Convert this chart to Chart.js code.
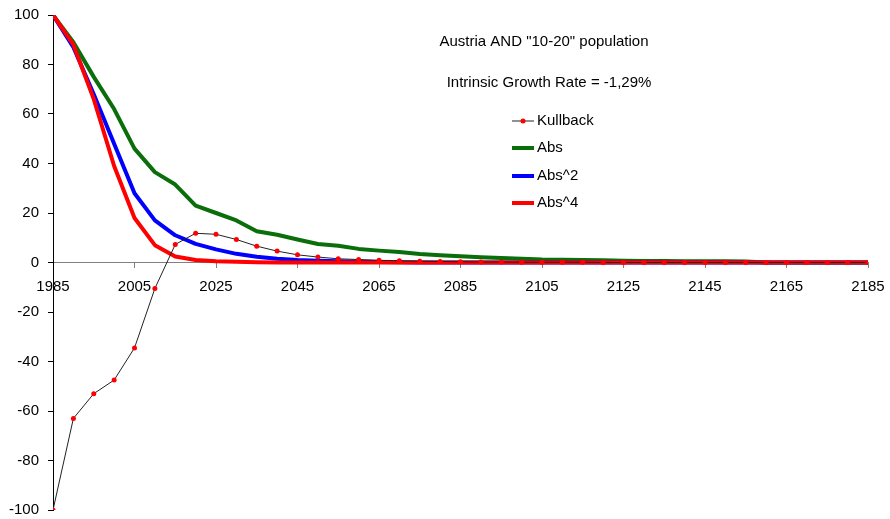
<!DOCTYPE html>
<html>
<head>
<meta charset="utf-8">
<script src="https://cdn.jsdelivr.net/npm/chart.js@4/dist/chart.umd.min.js"></script>
<style>
  html, body { margin: 0; padding: 0; background: #fff; }
  #wrap { width: 890px; height: 519px; }
</style>
</head>
<body>
<div id="wrap"><canvas id="chart" width="890" height="519"></canvas></div>
<script>
var years = [1985, 1990, 1995, 2000, 2005, 2010, 2015, 2020, 2025, 2030,
  2035, 2040, 2045, 2050, 2055, 2060, 2065, 2070, 2075, 2080,
  2085, 2090, 2095, 2100, 2105, 2110, 2115, 2120, 2125, 2130,
  2135, 2140, 2145, 2150, 2155, 2160, 2165, 2170, 2175, 2180, 2185];

var kullback = [-100, -63, -53, -47.5, -34.5, -10.5, 7.3, 11.8, 11.4, 9.3,
  6.6, 4.6, 3.1, 2.2, 1.5, 1.2, 0.9, 0.7, 0.5, 0.4,
  0.3, 0.2, 0.2, 0.1, 0.1, 0.1, 0.1, 0, 0, 0,
  0, 0, 0, 0, 0, 0, 0, 0, 0, 0, 0];

var abs1 = [100, 89, 75, 62, 46, 36.5, 31.5, 23, 20, 17,
  12.6, 11.2, 9.3, 7.5, 6.8, 5.5, 4.8, 4.2, 3.4, 2.9,
  2.5, 2.1, 1.8, 1.5, 1.2, 1.1, 1, 0.9, 0.7, 0.6,
  0.6, 0.5, 0.5, 0.5, 0.4, 0, 0, 0, 0, 0, 0];

var abs2 = [100, 87, 68, 48, 28, 17, 11, 7.5, 5.3, 3.5,
  2.3, 1.5, 1, 0.7, 0.5, 0.3, 0.2, 0.1, 0, 0,
  0, 0, 0, 0, 0, 0, 0, 0, 0, 0,
  0, 0, 0, 0, 0, 0, 0, 0, 0, 0, 0];

var abs4 = [100, 88, 66, 39, 18, 7, 2.4, 1, 0.5, 0.3,
  0.1, 0, 0, 0, 0, 0, 0, 0, 0, 0,
  0, 0, 0, 0, 0, 0, 0, 0, 0, 0,
  0, 0, 0, 0, 0, 0, 0, 0, 0, 0, 0];

var seriesNames = ['Kullback', 'Abs', 'Abs^2', 'Abs^4'];
var titleText = 'Austria AND "10-20" population';
var subtitleText = 'Intrinsic Growth Rate = -1,29%';

var FONT = '15px "Liberation Sans", Arial, sans-serif';

function pts(vals) {
  return years.map(function(y, i) { return { x: y, y: vals[i] }; });
}

// titles and the legend sit inside the plot, like the excel original
var overlay = {
  id: 'overlay',
  afterDraw: function(chart) {
    var ctx = chart.ctx;
    ctx.save();
    ctx.font = FONT;
    ctx.fillStyle = '#000';
    ctx.textBaseline = 'middle';
    ctx.textAlign = 'center';
    ctx.fillText(titleText, 544, 42);
    ctx.fillText(subtitleText, 549, 83);

    ctx.textAlign = 'left';
    var rowsY = [121, 148, 176, 203];
    chart.data.datasets.forEach(function(ds, i) {
      var y = rowsY[i];
      ctx.strokeStyle = ds.borderColor;
      ctx.lineWidth = ds.borderWidth;
      ctx.beginPath();
      ctx.moveTo(512, y);
      ctx.lineTo(534, y);
      ctx.stroke();
      if (ds.pointRadius > 0) {
        ctx.fillStyle = ds.pointBackgroundColor;
        ctx.beginPath();
        ctx.arc(523, y, ds.pointRadius, 0, Math.PI * 2);
        ctx.fill();
      }
      ctx.fillStyle = '#000';
      ctx.fillText(ds.label, 537, y);
    });
    ctx.restore();
  }
};

var ctx = document.getElementById('chart').getContext('2d');
new Chart(ctx, {
  type: 'line',
  data: {
    datasets: [{
      label: seriesNames[0],
      data: pts(kullback),
      borderColor: '#222',
      borderWidth: 1,
      pointRadius: 2.5,
      pointBackgroundColor: '#ff0000',
      pointBorderWidth: 0,
      order: 0
    }, {
      label: seriesNames[1],
      data: pts(abs1),
      borderColor: '#0a6e0a',
      borderWidth: 4,
      pointRadius: 0,
      order: 3
    }, {
      label: seriesNames[2],
      data: pts(abs2),
      borderColor: '#0000ff',
      borderWidth: 4,
      pointRadius: 0,
      order: 2
    }, {
      label: seriesNames[3],
      data: pts(abs4),
      borderColor: '#ff0000',
      borderWidth: 4,
      pointRadius: 0,
      order: 1
    }]
  },
  options: {
    responsive: false,
    animation: false,
    devicePixelRatio: 1,
    layout: { autoPadding: false, padding: { left: 0, top: 15, right: 22, bottom: 9 } },
    plugins: { legend: { display: false }, tooltip: { enabled: false } },
    elements: { line: { tension: 0, borderJoinStyle: 'round' } },
    scales: {
      x: {
        type: 'linear',
        min: 1985,
        max: 2185,
        position: { y: 0 },
        afterFit: function(s) {
          s.height = 0;
          s.paddingLeft = 0; s.paddingRight = 0;
        },
        ticks: {
          stepSize: 20,
          color: '#000',
          font: { family: '"Liberation Sans", Arial, sans-serif', size: 15 },
          padding: 10,
          maxRotation: 0,
          callback: function(v) { return String(v); }
        },
        grid: { drawOnChartArea: false, tickLength: 5, color: '#808080' },
        border: { color: '#808080', width: 1 }
      },
      y: {
        min: -100,
        max: 100,
        afterFit: function(s) {
          s.width = 53;
          s.paddingTop = 0; s.paddingBottom = 0;
        },
        ticks: {
          stepSize: 20,
          color: '#000',
          font: { family: '"Liberation Sans", Arial, sans-serif', size: 15 },
          padding: 9
        },
        grid: { drawOnChartArea: false, tickLength: 5, color: '#000' },
        border: { color: '#000', width: 1 }
      }
    }
  },
  plugins: [overlay]
});
</script>
</body>
</html>
